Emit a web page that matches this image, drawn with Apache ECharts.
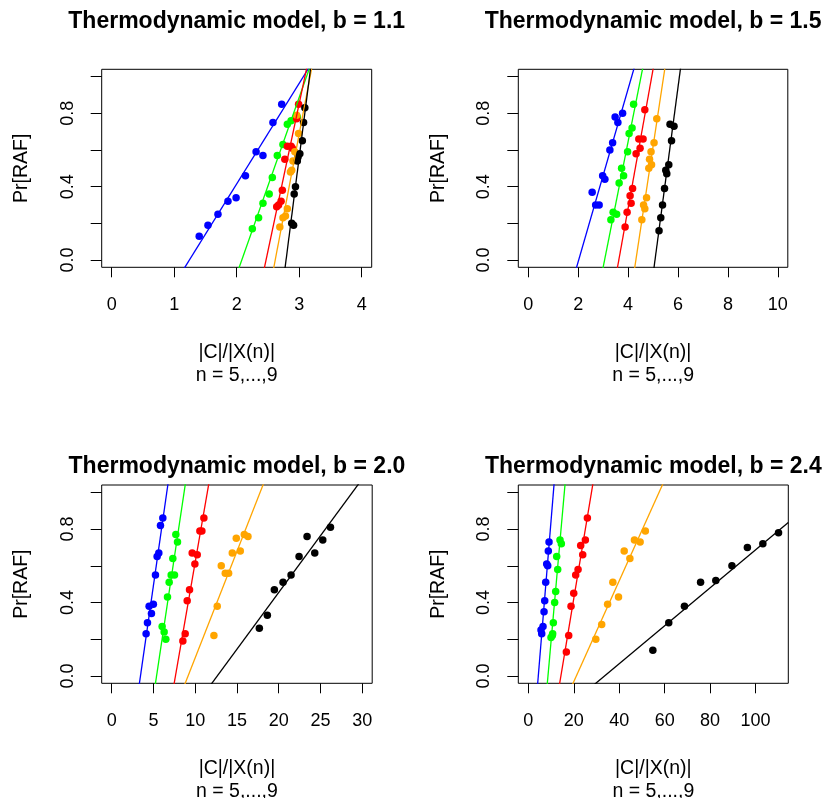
<!DOCTYPE html>
<html>
<head>
<meta charset="utf-8">
<script src="https://cdn.jsdelivr.net/npm/echarts@6/dist/echarts.min.js"></script>
<style>
html, body { margin: 0; padding: 0; background: #fff; }
#main { width: 829px; height: 798px; }
</style>
</head>
<body>
<div id="main"></div>
<script>
// b values of the four panels, n values of the five curves
var bValues = ['1.1', '1.5', '2.0', '2.4'];
var nValues = [5, 6, 7, 8, 9];

// x axis ticks of each panel
var xTicksB11 = [0, 1, 2, 3, 4];
var xTicksB15 = [0, 2, 4, 6, 8, 10];
var xTicksB20 = [0, 5, 10, 15, 20, 25, 30];
var xTicksB24 = [0, 20, 40, 60, 80, 100];
var xLimits = [4, 10, 30, 110];
var yTicks = [0, 0.2, 0.4, 0.6, 0.8, 1.0];
var yLabels = [0, 0.4, 0.8];

// points, one list per n (5..9)
var pointsB11 = [
    [[1.40,0.13],[1.54,0.19],[1.70,0.25],[1.86,0.32],[1.99,0.34],[2.14,0.46],[2.31,0.59],[2.42,0.57],[2.58,0.75],[2.72,0.85]],
    [[2.25,0.17],[2.35,0.23],[2.42,0.31],[2.52,0.36],[2.57,0.45],[2.65,0.57],[2.74,0.63],[2.81,0.74],[2.87,0.76],[2.97,0.78]],
    [[2.99,0.85],[2.96,0.77],[2.81,0.62],[2.87,0.62],[2.89,0.61],[2.77,0.55],[2.73,0.38],[2.71,0.32],[2.64,0.29],[2.67,0.30]],
    [[2.96,0.79],[2.99,0.69],[2.93,0.59],[2.90,0.54],[2.88,0.49],[2.86,0.48],[2.81,0.28],[2.78,0.24],[2.74,0.23],[2.69,0.18]],
    [[3.09,0.83],[3.07,0.75],[3.05,0.65],[3.01,0.58],[2.98,0.56],[2.97,0.54],[2.94,0.40],[2.92,0.36],[2.88,0.20],[2.91,0.19]]
];
var pointsB15 = [
    [[3.78,0.80],[3.48,0.78],[3.59,0.75],[3.38,0.64],[3.27,0.60],[2.98,0.46],[3.07,0.44],[2.56,0.37],[2.70,0.30],[2.84,0.30]],
    [[4.22,0.85],[4.16,0.72],[4.04,0.69],[3.98,0.59],[3.74,0.50],[3.82,0.46],[3.64,0.42],[3.40,0.26],[3.54,0.25],[3.31,0.22]],
    [[4.67,0.82],[4.43,0.66],[4.60,0.66],[4.48,0.61],[4.32,0.58],[4.18,0.39],[4.08,0.35],[4.12,0.31],[3.96,0.26],[3.88,0.18]],
    [[5.15,0.77],[5.04,0.64],[4.92,0.59],[4.86,0.55],[4.94,0.52],[4.83,0.50],[4.74,0.34],[4.62,0.30],[4.67,0.28],[4.55,0.22]],
    [[5.68,0.74],[5.84,0.73],[5.74,0.65],[5.63,0.52],[5.51,0.49],[5.55,0.47],[5.46,0.39],[5.38,0.30],[5.31,0.23],[5.24,0.16]]
];
var pointsB20 = [
    [[6.12,0.86],[5.84,0.82],[5.64,0.67],[5.44,0.65],[5.24,0.55],[4.99,0.39],[4.48,0.38],[4.76,0.34],[4.28,0.29],[4.12,0.23]],
    [[7.68,0.77],[7.88,0.73],[7.32,0.64],[7.12,0.55],[7.52,0.55],[6.88,0.51],[6.68,0.43],[6.04,0.27],[6.28,0.24],[6.48,0.20]],
    [[11.04,0.86],[10.56,0.79],[10.80,0.79],[9.64,0.67],[10.24,0.66],[9.96,0.61],[9.32,0.47],[9.04,0.41],[8.80,0.23],[8.52,0.19]],
    [[15.88,0.77],[16.32,0.76],[14.92,0.75],[15.40,0.68],[14.44,0.67],[13.12,0.60],[13.60,0.56],[14.00,0.56],[12.64,0.38],[12.24,0.22]],
    [[26.20,0.81],[25.28,0.74],[23.40,0.76],[24.32,0.67],[22.44,0.65],[21.48,0.55],[20.52,0.51],[19.48,0.47],[18.64,0.33],[17.68,0.26]]
];
var pointsB24 = [
    [[9.12,0.73],[8.81,0.68],[8.10,0.61],[8.54,0.60],[7.66,0.51],[7.22,0.41],[6.92,0.35],[6.48,0.27],[5.59,0.25],[5.90,0.23]],
    [[13.95,0.74],[14.54,0.72],[12.49,0.65],[12.93,0.58],[12.05,0.46],[11.60,0.40],[11.01,0.29],[10.72,0.23],[9.99,0.21],[10.57,0.22]],
    [[25.99,0.86],[25.10,0.74],[23.05,0.71],[23.94,0.66],[21.89,0.58],[20.86,0.55],[19.98,0.45],[18.80,0.38],[17.78,0.22],[16.74,0.13]],
    [[51.5,0.79],[49.2,0.73],[46.7,0.74],[42.2,0.68],[44.7,0.64],[37.2,0.51],[39.7,0.43],[34.9,0.39],[32.3,0.28],[29.7,0.20]],
    [[110.1,0.78],[103.2,0.72],[96.4,0.70],[89.6,0.60],[82.5,0.52],[75.8,0.51],[68.7,0.38],[61.8,0.29],[54.8,0.14]]
];

// fitted lines y = a + b*x, [a, b] per n
var fitB11 = [[-0.682,0.5485],[-2.011,0.966],[-3.975,1.6095],[-4.694,1.794],[-7.441,2.667]];
var fitB15 = [[-0.952,0.4712],[-2.096,0.6853],[-2.752,0.7584],[-3.881,0.9],[-5.194,1.0227]];
var fitB20 = [[-1.094,0.3176],[-1.630,0.3034],[-2.001,0.2621],[-1.060,0.1159],[-0.781,0.06178]];
var fitB24 = [[-0.662,0.1506],[-1.203,0.139],[-1.066,0.07433],[-0.581,0.02748],[-0.347,0.01034]];

var colors = ['#0000ff', '#00ff00', '#ff0000', '#ffa500', '#000000'];
var font = 'Liberation Sans, Arial, Helvetica, sans-serif';

var allPoints = [pointsB11, pointsB15, pointsB20, pointsB24];
var allFits = [fitB11, fitB15, fitB20, fitB24];
var allXTicks = [xTicksB11, xTicksB15, xTicksB20, xTicksB24];

// plot boxes (pixels)
var boxes = [
    {left: 101.7, top: 69.3, width: 270, height: 198},
    {left: 518.3, top: 69.3, width: 269.5, height: 198},
    {left: 101.7, top: 485, width: 270.5, height: 198.3},
    {left: 518.3, top: 485, width: 270, height: 198.3}
];
var titleTops = [10, 10, 455, 455];

var grids = [], xAxes = [], yAxes = [], titles = [], series = [];

for (var p = 0; p < 4; p++) {
    var box = boxes[p];
    var xmin = -0.04 * xLimits[p], xmax = 1.04 * xLimits[p];
    grids.push({
        left: box.left, top: box.top, width: box.width, height: box.height,
        outerBoundsMode: 'none', containLabel: false,
        show: true, borderColor: '#000', borderWidth: 1, backgroundColor: 'transparent'
    });
    titles.push({
        text: 'Thermodynamic model, b = ' + bValues[p],
        left: box.left + box.width / 2,
        top: titleTops[p],
        textAlign: 'center',
        padding: 0,
        textStyle: {fontFamily: font, fontSize: 23, fontWeight: 'bold', color: '#000'}
    });
    xAxes.push({
        type: 'value', gridIndex: p, min: xmin, max: xmax,
        name: '|C|/|X(n)|\nn = 5,...,9',
        nameLocation: 'middle', nameGap: 74,
        nameTextStyle: {fontFamily: font, fontSize: 19.5, color: '#000', lineHeight: 23},
        axisLine: {show: false, onZero: false},
        axisTick: {show: true, inside: false, length: 10, customValues: allXTicks[p],
            lineStyle: {color: '#000', width: 1}},
        axisLabel: {show: true, customValues: allXTicks[p], margin: 29,
            fontFamily: font, fontSize: 18, color: '#000', lineHeight: 18},
        splitLine: {show: false}
    });
    yAxes.push({
        type: 'value', gridIndex: p, min: -0.04, max: 1.04,
        name: 'Pr[RAF]',
        nameLocation: 'middle', nameGap: 70, nameRotate: 90,
        nameTextStyle: {fontFamily: font, fontSize: 19.5, color: '#000'},
        axisLine: {show: false, onZero: false},
        axisTick: {show: true, inside: false, length: 11, customValues: yTicks,
            lineStyle: {color: '#000', width: 1}},
        axisLabel: {show: true, customValues: yLabels, rotate: 90, margin: 25,
            fontFamily: font, fontSize: 18, color: '#000',
            formatter: function (v) { return v.toFixed(1); }},
        splitLine: {show: false}
    });
    for (var k = 0; k < nValues.length; k++) {
        var a = allFits[p][k][0], b = allFits[p][k][1];
        series.push({
            name: 'n = ' + nValues[k] + ' fit',
            type: 'line', xAxisIndex: p, yAxisIndex: p,
            data: [[xmin, a + b * xmin], [xmax, a + b * xmax]],
            clip: true, symbol: 'none', silent: true, animation: false,
            lineStyle: {color: colors[k], width: 1.3}
        });
        series.push({
            name: 'n = ' + nValues[k],
            type: 'scatter', xAxisIndex: p, yAxisIndex: p,
            data: allPoints[p][k],
            symbol: 'circle', symbolSize: 7.5, clip: true, animation: false,
            itemStyle: {color: colors[k], opacity: 1}
        });
    }
}

var myChart = echarts.init(document.getElementById('main'), null, {renderer: 'canvas'});
myChart.setOption({
    backgroundColor: '#fff',
    animation: false,
    title: titles,
    grid: grids,
    xAxis: xAxes,
    yAxis: yAxes,
    series: series
});
</script>
</body>
</html>
